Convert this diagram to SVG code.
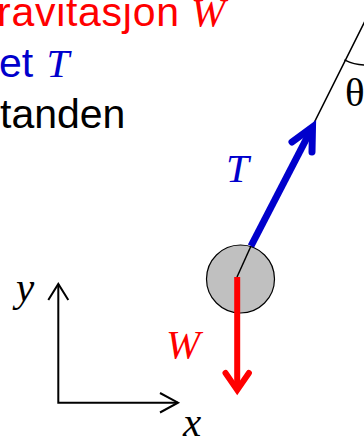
<svg xmlns="http://www.w3.org/2000/svg" width="364" height="445" viewBox="0 0 364 445">
<style>
.sans{font-family:"Liberation Sans",Arial,sans-serif;font-size:41px}
.ital{font-family:"Liberation Serif","Times New Roman",serif;font-style:italic;font-size:41px}
.serif{font-family:"Liberation Serif","Times New Roman",serif;font-size:41px}
.red{fill:#FF0000}
.blue{fill:#0000CC}
.blk{fill:#000000}
</style>
<rect width="364" height="445" fill="#FFFFFF"/>
<g id="legend">
<text class="sans red" x="-3" y="26"><tspan textLength="182" lengthAdjust="spacing">ravitasjon</tspan><tspan class="ital" x="191">W</tspan></text>
<text class="sans blue" x="-1" y="77">et<tspan class="ital" x="46.5">T</tspan></text>
<text class="sans blk" x="0" y="128">tanden</text>
</g>
<g id="connectors" fill="none" stroke-linecap="round">
<line id="string" x1="375.5" y1="0" x2="237" y2="277" stroke="#000" stroke-width="1.5"/>
<path id="angle-arc" d="M344.9,60.2 A45,45 0 0 0 365.5,65" stroke="#000" stroke-width="1.5"/>
</g>
<g id="bob">
<circle cx="240.5" cy="279" r="34" fill="#C0C0C0" stroke="#000" stroke-width="1.2"/>
<line x1="251" y1="246" x2="237" y2="277" stroke="#000" stroke-width="1.5"/>
</g>
<g id="tension" fill="none" stroke="#0000CC" stroke-width="7" stroke-linecap="round" stroke-linejoin="miter">
<line x1="251" y1="246" x2="312" y2="128" stroke-linecap="butt"/>
<path d="M292,142 L312.5,127 L312,152"/>
</g>
<g id="weight" fill="none" stroke="#FF0000" stroke-width="6" stroke-linecap="round" stroke-linejoin="miter">
<line x1="237.2" y1="277" x2="237.2" y2="390" stroke-linecap="butt"/>
<path d="M225.5,373 L237.2,390 L248.9,373"/>
</g>
<g id="axes" fill="none" stroke="#000" stroke-width="2">
<path d="M58.3,284 L58.3,402.7 L178,402.7"/>
<path d="M48.3,300 L58.3,284 L68.3,300"/>
<path d="M160,393 L178,402.7 L160,412.5"/>
</g>
<g id="labels">
<text class="ital blue" x="226" y="182">T</text>
<text class="ital red" x="166" y="358">W</text>
<text class="ital blk" x="16" y="301">y</text>
<text class="ital blk" x="183" y="436">x</text>
<text class="serif blk" x="345" y="106">θ</text>
</g>
</svg>
